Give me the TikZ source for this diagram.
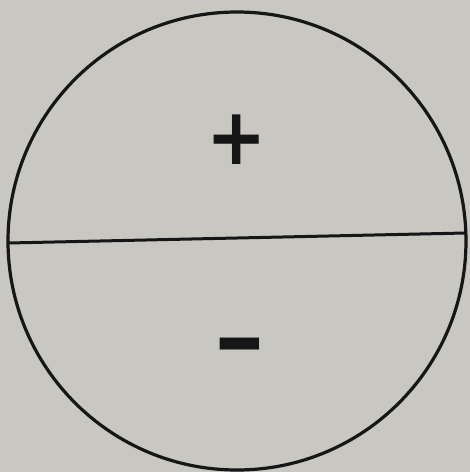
\documentclass[tikz,border=0pt]{standalone}
\usepackage{fontspec}
\newfontfamily\signfont{DejaVu Sans}[BoldFont={DejaVu Sans Bold}]
\definecolor{paper}{RGB}{201,199,193}
\definecolor{ink}{RGB}{22,22,22}
\begin{document}
\begin{tikzpicture}[x=1pt,y=-1pt,
  outline/.style={draw=ink,line width=3.2pt},
  signtext/.style={text=ink,inner sep=0pt,font=\signfont\bfseries}]
\fill[paper] (0,0) rectangle (470,472);
\useasboundingbox (0,0) rectangle (470,472);
\node[outline,circle,minimum size=458pt,inner sep=0pt] (disk) at (237,241) {};
\coordinate (lft) at (8.5,243);
\coordinate (rgt) at (465.5,233);
\draw[ink,line width=3pt] (lft) -- (rgt);
\node[signtext] (plus) at (237,140) {\scalebox{1}[1.1]{\fontsize{72}{72}\selectfont +}};
\node[signtext] (minus) at (240,357) {\scalebox{0.85}[1.4]{\fontsize{74}{74}\selectfont −}};
\end{tikzpicture}
\end{document}
